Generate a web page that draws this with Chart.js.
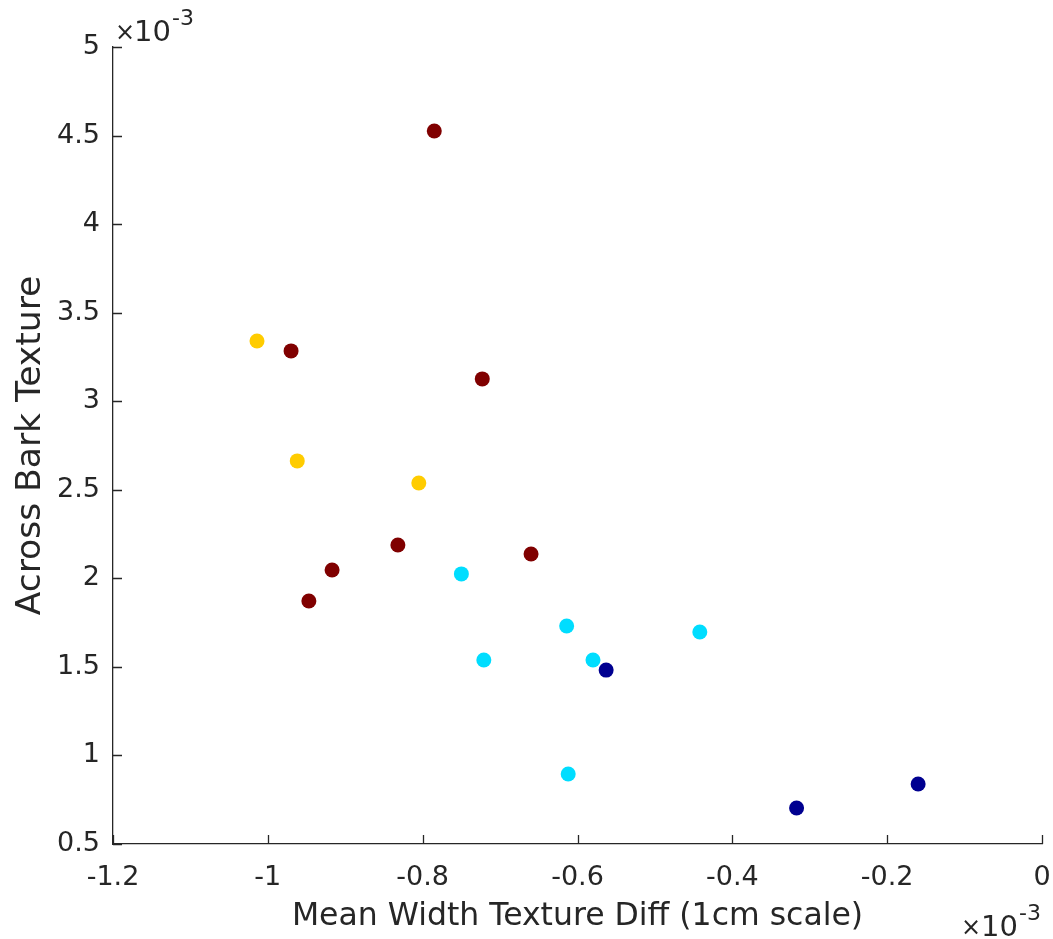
<!DOCTYPE html>
<html>
<head>
<meta charset="utf-8">
<script src="https://cdn.jsdelivr.net/npm/chart.js@4/dist/chart.umd.min.js"></script>
<style>
html,body{margin:0;padding:0;background:#fff;}
#wrap{width:1053px;height:939px;}
</style>
</head>
<body>
<div id="wrap"><canvas id="c" width="1053" height="939"></canvas></div>
<script>
// values shown in units of 1e-3 (axis exponent ×10^-3)
const yellowX = [-1.014, -0.962, -0.805];
const yellowY = [3.340, 2.663, 2.538];
const darkRedX = [-0.785, -0.970, -0.723, -0.832, -0.917, -0.947, -0.660];
const darkRedY = [4.526, 3.284, 3.126, 2.188, 2.047, 1.872, 2.137];
const cyanX = [-0.750, -0.614, -0.721, -0.580, -0.442, -0.612];
const cyanY = [2.025, 1.731, 1.539, 1.539, 1.697, 0.895];
const navyX = [-0.563, -0.317, -0.160];
const navyY = [1.482, 0.703, 0.839];
const xTicks = [-1.2, -1, -0.8, -0.6, -0.4, -0.2, 0];
const yTicks = [0.5, 1, 1.5, 2, 2.5, 3, 3.5, 4, 4.5, 5];
const xTitle = 'Mean Width Texture Diff (1cm scale)';
const yTitle = 'Across Bark Texture';

const pts = (xs, ys) => xs.map((x, i) => ({x: x, y: ys[i]}));
const TXT = '#262626';
const FONT = 'DejaVu Sans';

function ds(xs, ys, color) {
  return {data: pts(xs, ys), backgroundColor: color, borderColor: color, pointRadius: 7.5, pointHoverRadius: 7.5, borderWidth: 0};
}

const fmt = v => String(Number(v.toFixed(2)));

const tickPlugin = {
  id: 'inwardTicks',
  afterDraw(chart) {
    const ctx = chart.ctx;
    const xs = chart.scales.x, ys = chart.scales.y;
    const a = chart.chartArea;
    ctx.save();
    ctx.strokeStyle = TXT;
    ctx.lineWidth = 1.3;
    ctx.beginPath();
    xTicks.forEach(v => {
      const px = Math.round(xs.getPixelForValue(v)) + 0.5;
      ctx.moveTo(px, a.bottom); ctx.lineTo(px, a.bottom - 9);
    });
    yTicks.forEach(v => {
      const py = Math.round(ys.getPixelForValue(v)) + 0.5;
      ctx.moveTo(a.left, py); ctx.lineTo(a.left + 9, py);
    });
    ctx.stroke();
    // exponent labels
    ctx.fillStyle = TXT;
    ctx.textAlign = 'left';
    ctx.textBaseline = 'alphabetic';
    ctx.font = '24px "' + FONT + '"';
    ctx.fillText('\u00d7', 115, 40);
    ctx.font = '29px "' + FONT + '"';
    ctx.fillText('10', 134, 41);
    ctx.font = '22px "' + FONT + '"';
    ctx.fillText('-3', 172, 25);
    ctx.font = '24px "' + FONT + '"';
    ctx.fillText('\u00d7', 961, 935);
    ctx.font = '29px "' + FONT + '"';
    ctx.fillText('10', 981, 936);
    ctx.font = '22px "' + FONT + '"';
    ctx.fillText('-3', 1019, 920);
    ctx.restore();
  }
};

new Chart(document.getElementById('c'), {
  type: 'scatter',
  data: {
    datasets: [
      ds(yellowX, yellowY, '#ffcc00'),
      ds(darkRedX, darkRedY, '#800000'),
      ds(cyanX, cyanY, '#00ddff'),
      ds(navyX, navyY, '#000090')
    ]
  },
  options: {
    responsive: false,
    animation: false,
    devicePixelRatio: 1,
    layout: {padding: {top: 47, right: 11, left: 0, bottom: 0}},
    plugins: {legend: {display: false}, tooltip: {enabled: false}},
    scales: {
      x: {
        type: 'linear', min: -1.2, max: 0,
        afterBuildTicks: s => { s.ticks = xTicks.map(v => ({value: v})); },
        afterFit: s => { s.height = 95; s.paddingLeft = 0; s.paddingRight = 0; },
        grid: {display: true, drawOnChartArea: false, drawTicks: false},
        border: {display: true, color: TXT, width: 1.3},
        ticks: {color: TXT, font: {family: FONT, size: 27}, padding: 18, maxRotation: 0, autoSkip: false, callback: v => fmt(v)},
        title: {display: true, text: xTitle, color: TXT, font: {family: FONT, size: 31.5}, padding: {top: 0, bottom: 3}}
      },
      y: {
        type: 'linear', min: 0.5, max: 5,
        afterBuildTicks: s => { s.ticks = yTicks.map(v => ({value: v})); },
        afterFit: s => { s.width = 113; s.paddingTop = 0; s.paddingBottom = 0; },
        grid: {display: true, drawOnChartArea: false, drawTicks: false},
        border: {display: true, color: TXT, width: 1.3},
        ticks: {color: TXT, font: {family: FONT, size: 27}, padding: 13, autoSkip: false, callback: v => fmt(v)},
        title: {display: true, text: yTitle, color: TXT, font: {family: FONT, size: 34.5}, padding: {top: 10, bottom: 0}}
      }
    }
  },
  plugins: [tickPlugin]
});
</script>
</body>
</html>
